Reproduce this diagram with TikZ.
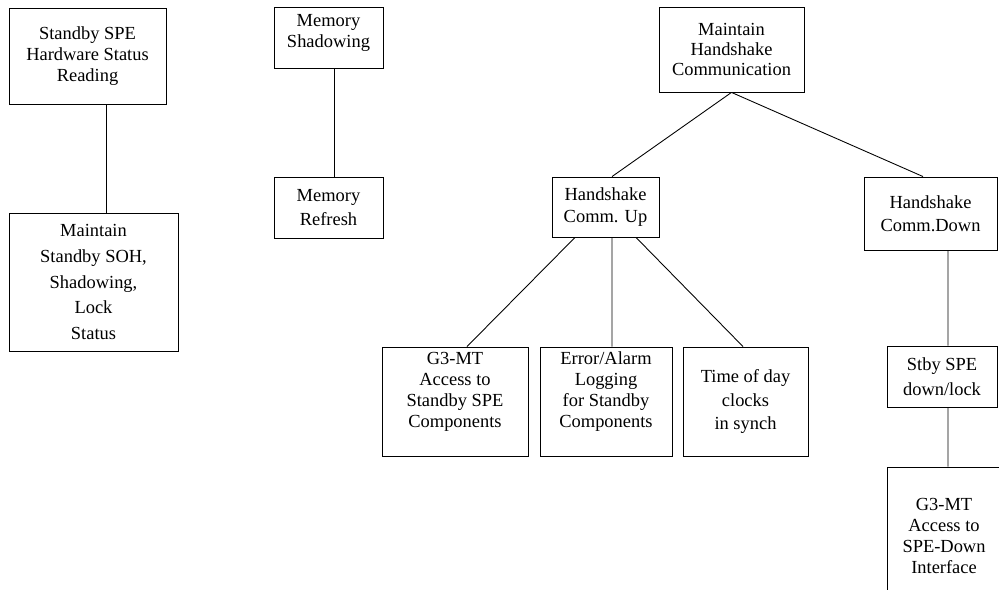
\documentclass[tikz,border=0pt]{standalone}
\usepackage{fontspec}
\setmainfont{Liberation Serif}
\begin{document}
\begin{tikzpicture}[x=0.02cm,y=-0.02cm,line width=0.5pt,
    blk/.style={draw,fill=white,align=center,inner sep=0pt,
        font=\fontsize{10.5}{#1}\selectfont},
    blk/.default=12pt]
    \useasboundingbox (0,0) rectangle (999,590);
    % left column
    \node[blk,minimum width=3.14cm,minimum height=1.92cm] (hwread) at (87.5,56)
        {Standby SPE\\Hardware Status\\Reading};
    \node[blk=14.7pt,minimum width=3.38cm,minimum height=2.76cm] (stbysoh) at (93.5,282)
        {Maintain\\Standby SOH,\\Shadowing,\\Lock\\Status};
    \node[blk,minimum width=2.18cm,minimum height=1.22cm,text depth=7pt] (memshad) at (328.5,37.5)
        {Memory\\Shadowing};
    \node[blk=14pt,minimum width=2.18cm,minimum height=1.22cm] (memref) at (328.5,207.5)
        {Memory\\Refresh};
    \coordinate (c1) at (106,0);
    \coordinate (c2) at (334,0);
    \draw (hwread.south -| c1) -- (stbysoh.north -| c1);
    \draw (memshad.south -| c2) -- (memref.north -| c2);
    % handshake tree
    \node[blk=11.5pt,minimum width=2.9cm,minimum height=1.7cm] (maincomm) at (731.5,49.5)
        {Maintain\\Handshake\\Communication};
    \node[blk=13pt,minimum width=2.14cm,minimum height=1.2cm] (hcup) at (605.5,207)
        {Handshake\\Comm. Up};
    \node[blk=13pt,minimum width=2.66cm,minimum height=1.46cm] (hcdown) at (930.5,213.5)
        {Handshake\\Comm.Down};
    \node[blk,minimum width=2.92cm,minimum height=2.18cm,text depth=13.5pt] (g3acc) at (455,401.5)
        {G3-MT\\Access to\\Standby SPE\\Components};
    \node[blk,minimum width=2.64cm,minimum height=2.18cm,text depth=13.5pt] (errlog) at (606,401.5)
        {Error/Alarm\\Logging\\for Standby\\Components};
    \node[blk=13.6pt,minimum width=2.5cm,minimum height=2.18cm] (tod) at (745.5,401.5)
        {Time of day\\clocks\\in synch};
    \node[blk=14pt,minimum width=2.2cm,minimum height=1.22cm] (stbydown) at (942,376.5)
        {Stby SPE\\down/lock};
    \node[blk,minimum width=2.28cm,minimum height=2.76cm] (g3down) at (944,536)
        {G3-MT\\Access to\\SPE-Down\\Interface};
    \draw (maincomm.south) -- ([xshift=0.13cm]hcup.north);
    \draw (maincomm.south) -- ([xshift=-0.15cm]hcdown.north);
    \draw ([xshift=-0.61cm]hcup.south) -- ([xshift=0.24cm]g3acc.north);
    \draw ([xshift=0.13cm]hcup.south) -- ([xshift=0.12cm]errlog.north);
    \draw ([xshift=0.61cm]hcup.south) -- ([xshift=-0.05cm]tod.north);
    \draw ([xshift=0.35cm]hcdown.south) -- ([xshift=0.12cm]stbydown.north);
    \draw ([xshift=0.12cm]stbydown.south) -- ([xshift=0.08cm]g3down.north);
\end{tikzpicture}
\end{document}
